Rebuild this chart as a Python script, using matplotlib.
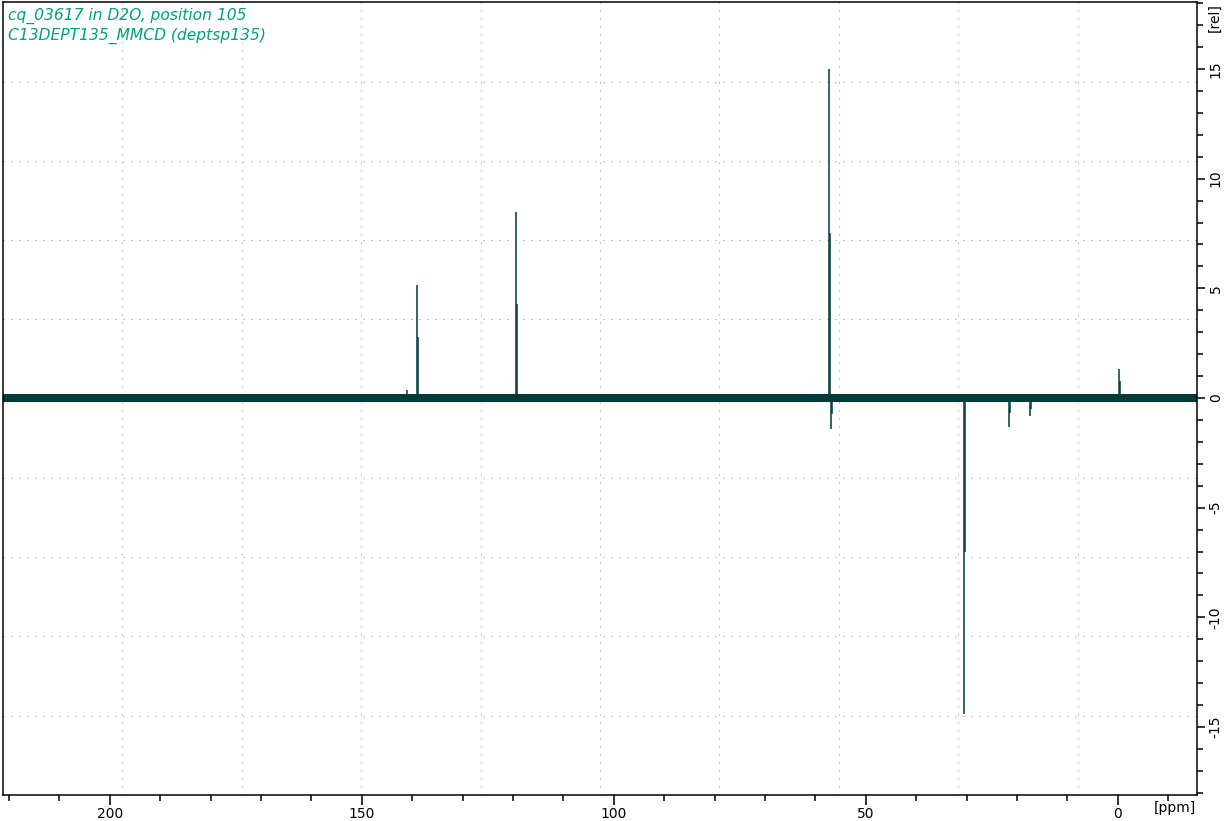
import matplotlib
matplotlib.use('Agg')
import matplotlib.pyplot as plt
import numpy as np
from matplotlib.ticker import MultipleLocator

plt.rcParams['axes.unicode_minus'] = False

# peaks: position (ppm), tip intensity, intensity of the neighbouring point
peak_ppm = [141.0, 139.0, 119.5, 57.3, 56.9, 30.6, 21.6, 17.4, -0.2]
peak_top = [0.38, 5.17, 8.47, 15.0, -1.43, -14.4, -1.34, -0.84, 1.34]
peak_side = [0.2, 2.8, 4.3, 7.5, -0.72, -7.0, -0.70, -0.50, 0.79]
noise_level = 0.19

x_range = (221.2, -15.7)
y_range = (-18.1, 18.04)

title_lines = ['cq_03617 in D2O, position 105', 'C13DEPT135_MMCD (deptsp135)']

spec_color = '#003a3a'
title_color = '#00a07a'

W, H = 1229, 821
fig = plt.figure(figsize=(W / 100, H / 100), dpi=100)
ax = fig.add_axes([3 / W, 1 - 795 / H, 1194 / W, (795 - 2.3) / H])

ax.set_xlim(*x_range)
ax.set_ylim(*y_range)

# grid divides the frame in ten equal parts
for gx in np.linspace(x_range[0], x_range[1], 11)[1:-1]:
    ax.axvline(gx, color='#8a8a8a', lw=0.72, ls=(0, (1, 7)), zorder=0)
for gy in np.linspace(y_range[0], y_range[1], 11)[1:-1]:
    ax.axhline(gy, color='#8a8a8a', lw=0.72, ls=(0, (1, 7)), zorder=0)

# baseline noise band
ax.fill_between(list(x_range), [-noise_level] * 2, [noise_level] * 2,
                color=spec_color, lw=0, zorder=2)

# peaks
step = 0.2
for p, top, side in zip(peak_ppm, peak_top, peak_side):
    ax.vlines(p, 0, top, color=spec_color, lw=1.1, zorder=3)
    ax.vlines(p - step, 0, side, color=spec_color, lw=1.1, zorder=3)

for s in ax.spines.values():
    s.set_linewidth(1.1)
    s.set_color('black')

ax.set_xticks([0, 50, 100, 150, 200])
ax.xaxis.set_minor_locator(MultipleLocator(10))
ax.tick_params(axis='x', which='major', direction='out', length=7, width=1.1,
               labelsize=10, pad=1.5)
ax.tick_params(axis='x', which='minor', direction='out', length=4.5, width=1.1)

ax.yaxis.tick_right()
ax.set_yticks([-15, -10, -5, 0, 5, 10, 15])
ax.yaxis.set_minor_locator(MultipleLocator(1))
ax.tick_params(axis='y', which='major', direction='out', length=5.5, width=1.1,
               labelsize=10, labelrotation=90, pad=3)
ax.tick_params(axis='y', which='minor', direction='out', length=4.5, width=1.1)
for lab in ax.get_yticklabels():
    lab.set_va('center')

fig.text(1175 / W, 1 - 808 / H, '[ppm]', fontsize=10, ha='center', va='center')
fig.text(1215 / W, 1 - 18 / H, '[rel]', fontsize=10, ha='center', va='center',
         rotation=90)

fig.text(8 / W, 1 - 16 / H, title_lines[0], fontsize=11.2, style='italic',
         color=title_color, ha='left', va='center')
fig.text(8 / W, 1 - 36 / H, title_lines[1], fontsize=11.2, style='italic',
         color=title_color, ha='left', va='center')

fig.savefig('out.png', dpi=100)
plt.close(fig)
